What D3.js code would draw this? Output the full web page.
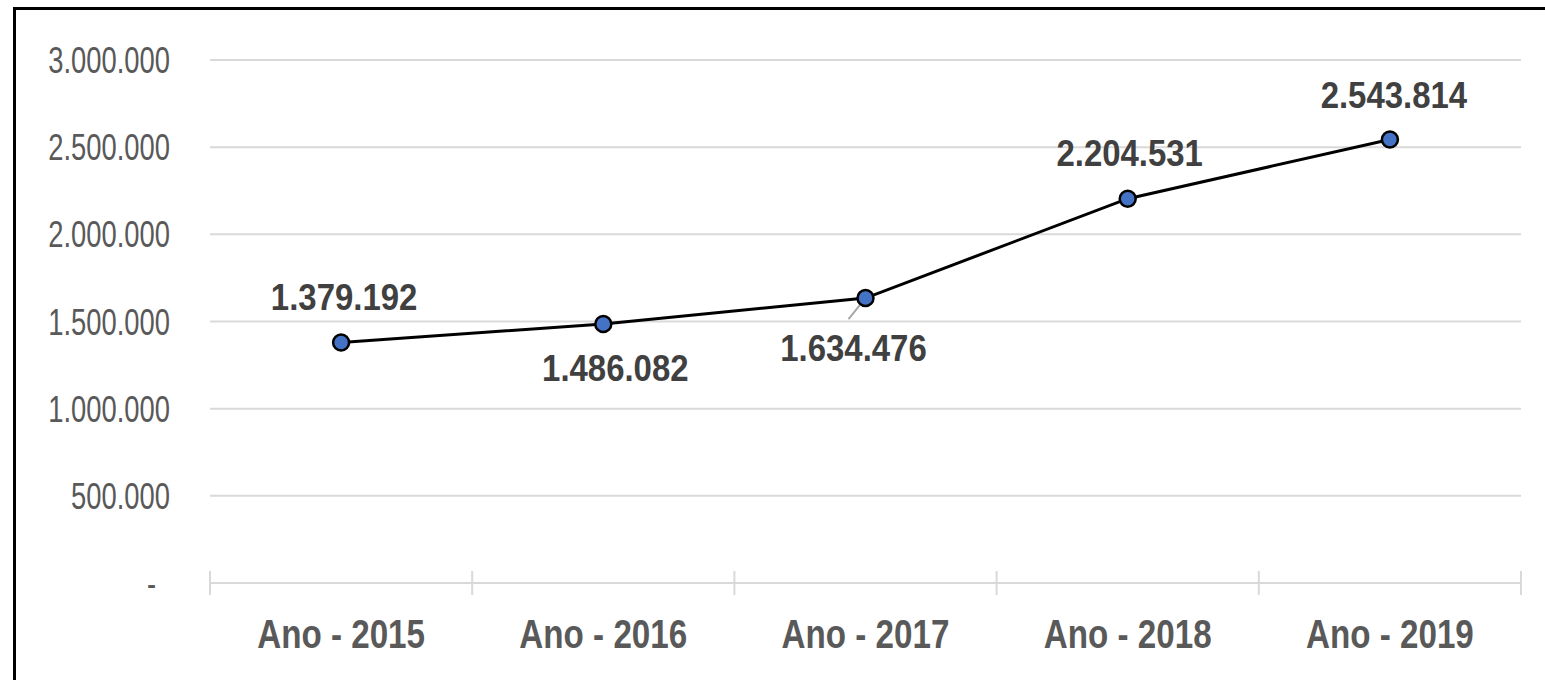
<!DOCTYPE html>
<html><head><meta charset="utf-8">
<script src="https://cdn.jsdelivr.net/npm/d3@7"></script>
<style>
html,body{margin:0;padding:0;background:#fff;overflow:hidden}
svg{display:block;font-family:"Liberation Sans",Arial,sans-serif}
</style></head>
<body>
<svg id="c" width="1545" height="680"></svg>
<script>
// ---- data ----
const categories = ["Ano - 2015","Ano - 2016","Ano - 2017","Ano - 2018","Ano - 2019"];
const values = [1379192, 1486082, 1634476, 2204531, 2543814];
const yTicks = [0, 500000, 1000000, 1500000, 2000000, 2500000, 3000000];

// label placement offsets (relative to point): [dx, baseline dy]
const labelOffsets = [[3,-33],[12,57],[-12,63],[2,-33],[4,-32]];

const W = 1545, H = 680;
const svg = d3.select("#c");
const locale = d3.formatLocale({decimal:",", thousands:".", grouping:[3], currency:["R$",""]});
const fmt = locale.format(",");

// border (only top and left edges fall inside the frame)
svg.append("path").attr("d",`M14.5,${H}V8.5H${W}`)
  .attr("fill","none").attr("stroke","#000").attr("stroke-width",3);

const x = d3.scaleBand().domain(categories).range([210,1521]).padding(0);
const y = d3.scaleLinear().domain([0,3000000]).range([583,60]);

function squeezeText(sel, f){
  sel.each(function(){
    const t = d3.select(this);
    const tx = +t.attr("data-x"), ty = +t.attr("data-y");
    t.attr("transform",`translate(${tx},${ty}) scale(${f},1)`);
  });
}

// gridlines
svg.append("g").selectAll("line").data(yTicks.filter(d=>d>0)).join("line")
  .attr("x1",210).attr("x2",1521).attr("y1",d=>y(d)).attr("y2",d=>y(d))
  .attr("stroke","#d9d9d9").attr("stroke-width",2);

// x axis
const xAxis = svg.append("g");
xAxis.append("line").attr("x1",210).attr("x2",1521).attr("y1",y(0)).attr("y2",y(0))
  .attr("stroke","#d9d9d9").attr("stroke-width",2);
const bounds = categories.map(c=>x(c)).concat([x(categories[categories.length-1])+x.bandwidth()]);
xAxis.selectAll("line.tk").data(bounds).join("line").attr("class","tk")
  .attr("x1",d=>d).attr("x2",d=>d).attr("y1",y(0)-12).attr("y2",y(0)+12)
  .attr("stroke","#d9d9d9").attr("stroke-width",2);
xAxis.selectAll("text").data(categories).join("text")
  .attr("data-x",d=>x(d)+x.bandwidth()/2).attr("data-y",648)
  .attr("text-anchor","middle").attr("font-size",40).attr("font-weight","bold")
  .attr("fill","#595959").text(d=>d).call(squeezeText,0.83);

// y labels
svg.append("g").selectAll("text").data(yTicks).join("text")
  .attr("data-x",d=>d===0?156:170).attr("data-y",d=>y(d)+13)
  .attr("text-anchor","end").attr("font-size",37)
  .attr("fill","#595959").text(d=>d===0?"-":fmt(d)).call(squeezeText,0.74);

// line
const pts = categories.map((c,i)=>({c, v:values[i], px:x(c)+x.bandwidth()/2, py:y(values[i]), off:labelOffsets[i]}));
svg.append("path").datum(pts)
  .attr("d", d3.line().x(d=>d.px).y(d=>d.py))
  .attr("fill","none").attr("stroke","#000").attr("stroke-width",3);

// leader line for 2017 label
svg.append("line").attr("x1",pts[2].px).attr("y1",pts[2].py)
  .attr("x2",pts[2].px-17).attr("y2",pts[2].py+21)
  .attr("stroke","#a6a6a6").attr("stroke-width",2);

// markers
svg.append("g").selectAll("circle").data(pts).join("circle")
  .attr("cx",d=>d.px).attr("cy",d=>d.py).attr("r",8)
  .attr("fill","#4472c4").attr("stroke","#000").attr("stroke-width",2.5);

// data labels
svg.append("g").selectAll("text").data(pts).join("text")
  .attr("data-x",d=>d.px+d.off[0]).attr("data-y",d=>d.py+d.off[1])
  .attr("text-anchor","middle").attr("font-size",37).attr("font-weight","bold")
  .attr("fill","#404040").text(d=>fmt(d.v)).call(squeezeText,0.89);
</script>
</body></html>
